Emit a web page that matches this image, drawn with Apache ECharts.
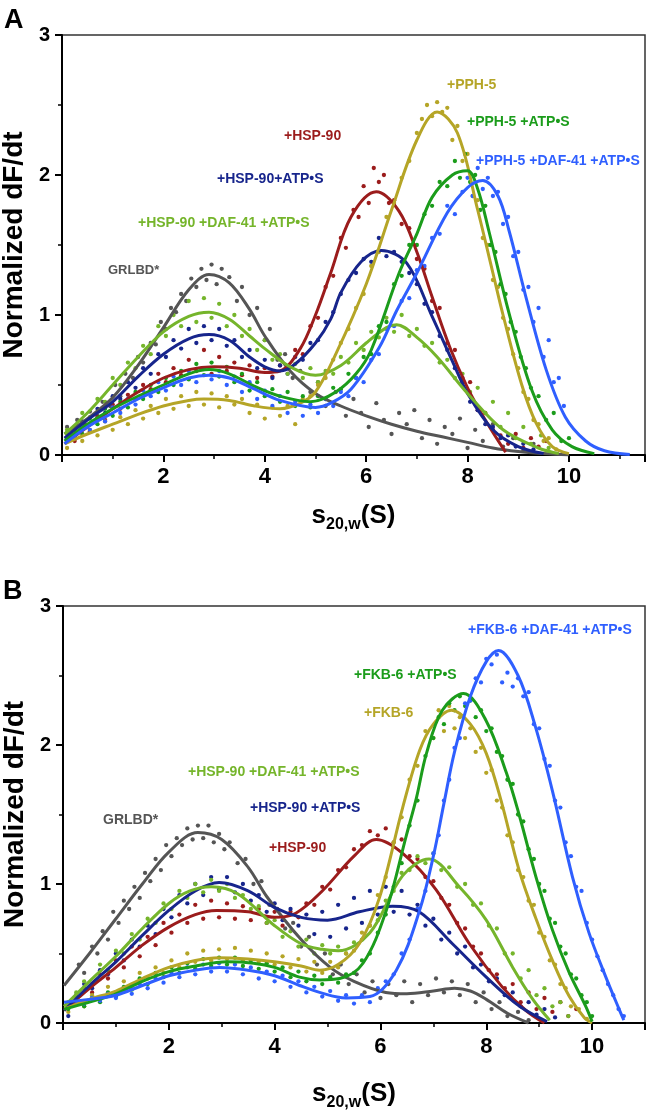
<!DOCTYPE html>
<html><head><meta charset="utf-8">
<script src="https://cdn.jsdelivr.net/npm/echarts@6/dist/echarts.min.js"></script>
<style>html,body{margin:0;padding:0;background:#fff}#c{width:646px;height:1116px}</style>
</head><body><div id="c"></div>
<script>
// ---------------- Panel A: fitted curves (s20,w in S, normalized dF/dt) ----------------
const A_GRLBD_fit = [[0.05,0.15],[0.5,0.26],[1,0.41],[1.5,0.64],[2,0.91],[2.5,1.18],[2.9,1.29],[3.3,1.23],[3.7,1.04],[4,0.85],[4.5,0.6],[5,0.44],[5.5,0.35],[6,0.28],[6.5,0.22],[7,0.17],[7.5,0.13],[8,0.09],[8.5,0.05],[9,0.025],[9.5,0.01],[10,0]];
const A_HSP90_fit = [[0.05,0.08],[0.5,0.2],[1,0.33],[1.5,0.45],[2,0.55],[2.5,0.61],[3,0.63],[3.5,0.62],[4,0.59],[4.3,0.6],[4.7,0.76],[5,1.0],[5.3,1.3],[5.7,1.7],[6.2,1.88],[6.65,1.74],[7,1.45],[7.3,1.13],[7.65,0.77],[8,0.48],[8.35,0.25],[8.75,0.02]];
const A_HSP90_ATP_fit = [[0.05,0.12],[0.5,0.25],[1,0.38],[1.5,0.56],[2,0.72],[2.5,0.83],[2.9,0.86],[3.3,0.82],[3.7,0.7],[4,0.63],[4.3,0.6],[4.6,0.65],[5,0.8],[5.3,0.97],[5.5,1.16],[5.9,1.38],[6.3,1.46],[6.8,1.37],[7.3,0.99],[7.7,0.67],[8,0.44],[8.5,0.18],[9,0.06],[9.5,0.01]];
const A_HSP90_DAF_fit = [[0.05,0.15],[0.5,0.3],[1,0.5],[1.5,0.7],[2,0.88],[2.5,0.99],[2.9,1.02],[3.3,0.97],[3.7,0.85],[4,0.76],[4.5,0.63],[5,0.57],[5.5,0.64],[6,0.8],[6.4,0.91],[6.6,0.93],[7,0.84],[7.4,0.7],[8,0.44],[8.7,0.18],[9.4,0.05],[9.8,0.01]];
const A_PPH5_fit = [[0.05,0.08],[0.5,0.15],[1,0.22],[1.5,0.29],[2,0.35],[2.5,0.39],[2.8,0.4],[3.3,0.39],[3.8,0.35],[4.3,0.33],[4.7,0.37],[5,0.45],[5.4,0.72],[6,1.22],[6.5,1.75],[7,2.25],[7.4,2.45],[7.8,2.3],[8.2,1.75],[8.5,1.3],[8.7,1.0],[9.07,0.5],[9.35,0.23],[9.67,0.06],[10,0.01]];
const A_PPH5_ATP_fit = [[0.05,0.1],[0.5,0.22],[1,0.33],[1.5,0.42],[2,0.5],[2.5,0.58],[2.9,0.61],[3.3,0.58],[3.8,0.49],[4.3,0.42],[4.9,0.38],[5.4,0.45],[5.8,0.58],[6.1,0.75],[6.65,1.3],[7,1.58],[7.3,1.84],[7.7,2.0],[8,2.03],[8.2,1.9],[8.42,1.6],[8.82,1.01],[9.27,0.46],[9.67,0.18],[10.06,0.06],[10.5,0.01]];
const A_PPH5_DAF_fit = [[0.05,0.08],[0.5,0.2],[1,0.3],[1.5,0.4],[2,0.48],[2.5,0.55],[2.9,0.57],[3.3,0.55],[3.8,0.47],[4.3,0.39],[5,0.34],[5.3,0.37],[5.7,0.47],[6.26,0.77],[6.6,1.03],[7,1.3],[7.6,1.73],[8,1.91],[8.3,1.96],[8.6,1.85],[8.82,1.6],[9.15,1.13],[9.55,0.61],[9.93,0.27],[10.33,0.1],[10.7,0.03],[11.2,0.003]];

// ---------------- Panel A: measured points ----------------
const A_GRLBD_pts = [[0.1,0.2],[0.2,0.14],[0.3,0.25],[0.45,0.22],[0.55,0.31],[0.7,0.28],[0.8,0.38],[0.95,0.35],[1.05,0.5],[1.15,0.42],[1.25,0.58],[1.4,0.55],[1.5,0.7],[1.6,0.66],[1.75,0.8],[1.85,0.79],[1.95,0.95],[2.05,0.9],[2.15,1.05],[2.25,1.02],[2.35,1.15],[2.45,1.1],[2.55,1.26],[2.65,1.2],[2.75,1.33],[2.85,1.25],[2.95,1.36],[3.05,1.22],[3.15,1.33],[3.3,1.27],[3.45,1.1],[3.55,1.2],[3.7,1.0],[3.85,1.05],[4.0,0.82],[4.1,0.9],[4.25,0.68],[4.4,0.72],[4.55,0.55],[4.7,0.6],[4.9,0.45],[5.05,0.52],[5.2,0.35],[5.4,0.45],[5.6,0.28],[5.75,0.4],[5.9,0.3],[6.05,0.2],[6.2,0.37],[6.35,0.25],[6.5,0.15],[6.65,0.3],[6.8,0.22],[6.95,0.32],[7.1,0.12],[7.25,0.25],[7.4,0.08],[7.55,0.2],[7.7,0.15],[7.85,0.26],[8.0,0.05],[8.15,0.18],[8.3,0.1],[8.5,0.22],[8.7,0.06],[8.9,0.12],[9.1,0.03],[9.3,0.08]];
const A_HSP90_pts = [[0.1,0.12],[0.25,0.1],[0.4,0.2],[0.55,0.17],[0.7,0.27],[0.85,0.25],[1.0,0.36],[1.15,0.33],[1.3,0.43],[1.45,0.4],[1.6,0.5],[1.75,0.47],[1.9,0.58],[2.05,0.52],[2.2,0.62],[2.35,0.57],[2.5,0.68],[2.65,0.6],[2.8,0.75],[2.95,0.58],[3.1,0.7],[3.25,0.6],[3.4,0.66],[3.55,0.57],[3.7,0.64],[3.85,0.55],[4.0,0.62],[4.15,0.56],[4.3,0.64],[4.45,0.62],[4.6,0.75],[4.75,0.72],[4.9,0.92],[5.05,0.98],[5.2,1.2],[5.35,1.28],[5.5,1.55],[5.6,1.48],[5.75,1.75],[5.85,1.7],[5.95,1.92],[6.05,1.8],[6.15,2.05],[6.25,1.95],[6.35,2.0],[6.45,1.8],[6.55,1.82],[6.7,1.65],[6.85,1.62],[7.0,1.4],[7.15,1.33],[7.3,1.1],[7.45,1.05],[7.6,0.8],[7.75,0.75],[7.9,0.55],[8.05,0.52],[8.2,0.32],[8.35,0.3],[8.5,0.18],[8.65,0.14],[8.8,0.08],[8.95,0.15],[9.1,0.05],[9.25,0.12],[9.4,0.06],[9.55,0.1]];
const A_HSP90_ATP_pts = [[0.1,0.15],[0.25,0.12],[0.4,0.24],[0.55,0.22],[0.7,0.33],[0.85,0.3],[1.0,0.42],[1.15,0.4],[1.3,0.52],[1.45,0.48],[1.6,0.62],[1.75,0.58],[1.9,0.72],[2.05,0.7],[2.2,0.82],[2.35,0.76],[2.5,0.9],[2.65,0.8],[2.8,0.92],[2.95,0.82],[3.1,0.9],[3.25,0.78],[3.4,0.82],[3.55,0.7],[3.7,0.75],[3.85,0.62],[4.0,0.68],[4.15,0.55],[4.3,0.64],[4.45,0.58],[4.6,0.7],[4.75,0.68],[4.9,0.8],[5.05,0.82],[5.2,0.95],[5.35,1.02],[5.5,1.15],[5.65,1.25],[5.8,1.3],[5.95,1.4],[6.1,1.38],[6.25,1.55],[6.4,1.42],[6.55,1.45],[6.7,1.38],[6.85,1.3],[7.0,1.22],[7.15,1.08],[7.3,1.02],[7.45,0.85],[7.6,0.75],[7.75,0.62],[7.9,0.52],[8.05,0.38],[8.2,0.32],[8.35,0.22],[8.5,0.2],[8.65,0.12],[8.8,0.14],[8.95,0.06],[9.1,0.08],[9.3,0.04]];
const A_HSP90_DAF_pts = [[0.1,0.18],[0.25,0.2],[0.4,0.3],[0.55,0.27],[0.7,0.4],[0.85,0.38],[1.0,0.55],[1.15,0.5],[1.3,0.66],[1.45,0.62],[1.6,0.78],[1.75,0.72],[1.9,0.92],[2.05,0.85],[2.2,1.0],[2.35,0.92],[2.5,1.1],[2.65,0.95],[2.8,1.12],[2.95,0.98],[3.1,1.08],[3.25,0.92],[3.4,1.0],[3.55,0.85],[3.7,0.9],[3.85,0.75],[4.0,0.82],[4.15,0.68],[4.3,0.72],[4.45,0.58],[4.6,0.65],[4.75,0.55],[4.9,0.62],[5.05,0.52],[5.2,0.6],[5.35,0.58],[5.5,0.7],[5.65,0.66],[5.8,0.8],[5.95,0.75],[6.1,0.88],[6.25,0.84],[6.4,0.98],[6.55,0.88],[6.7,1.0],[6.85,0.85],[7.0,0.9],[7.15,0.78],[7.3,0.8],[7.45,0.66],[7.6,0.68],[7.75,0.55],[7.9,0.58],[8.05,0.45],[8.2,0.48],[8.35,0.3],[8.5,0.38],[8.65,0.2],[8.8,0.3],[8.95,0.12],[9.1,0.2],[9.25,0.08],[9.45,0.14],[9.6,0.05]];
const A_PPH5_pts = [[0.1,0.05],[0.25,0.12],[0.4,0.1],[0.55,0.18],[0.7,0.14],[0.85,0.24],[1.0,0.18],[1.15,0.27],[1.3,0.22],[1.45,0.32],[1.6,0.26],[1.75,0.35],[1.9,0.3],[2.05,0.4],[2.2,0.33],[2.35,0.42],[2.5,0.35],[2.65,0.45],[2.8,0.36],[2.95,0.44],[3.1,0.34],[3.25,0.42],[3.4,0.36],[3.55,0.4],[3.7,0.3],[3.85,0.36],[4.0,0.26],[4.15,0.34],[4.3,0.28],[4.45,0.35],[4.6,0.22],[4.75,0.4],[4.9,0.42],[5.05,0.5],[5.2,0.55],[5.35,0.68],[5.5,0.8],[5.65,0.9],[5.8,1.05],[5.95,1.15],[6.1,1.35],[6.25,1.45],[6.4,1.7],[6.55,1.8],[6.7,1.98],[6.85,2.1],[7.0,2.3],[7.1,2.4],[7.2,2.5],[7.3,2.42],[7.4,2.52],[7.5,2.45],[7.6,2.48],[7.7,2.25],[7.8,2.35],[7.9,2.1],[8.0,2.15],[8.1,1.85],[8.2,1.82],[8.3,1.55],[8.4,1.5],[8.5,1.25],[8.6,1.2],[8.7,0.98],[8.8,0.9],[8.9,0.72],[9.0,0.62],[9.1,0.45],[9.2,0.4],[9.3,0.25],[9.4,0.22],[9.5,0.1],[9.6,0.12],[9.75,0.04]];
const A_PPH5_ATP_pts = [[0.1,0.12],[0.25,0.18],[0.4,0.15],[0.55,0.26],[0.7,0.22],[0.85,0.33],[1.0,0.28],[1.15,0.38],[1.3,0.34],[1.45,0.45],[1.6,0.4],[1.75,0.5],[1.9,0.45],[2.05,0.55],[2.2,0.5],[2.35,0.6],[2.5,0.54],[2.65,0.65],[2.8,0.57],[2.95,0.66],[3.1,0.56],[3.25,0.63],[3.4,0.52],[3.55,0.58],[3.7,0.46],[3.85,0.52],[4.0,0.42],[4.15,0.47],[4.3,0.38],[4.45,0.45],[4.6,0.35],[4.75,0.42],[4.9,0.34],[5.05,0.42],[5.2,0.4],[5.35,0.48],[5.5,0.47],[5.65,0.58],[5.8,0.55],[5.95,0.7],[6.1,0.72],[6.25,0.92],[6.4,0.95],[6.55,1.22],[6.7,1.28],[6.85,1.5],[7.0,1.5],[7.15,1.72],[7.3,1.78],[7.45,1.95],[7.6,1.92],[7.75,2.1],[7.85,1.98],[7.95,2.15],[8.05,1.95],[8.15,2.0],[8.25,1.75],[8.35,1.78],[8.45,1.5],[8.55,1.45],[8.65,1.22],[8.75,1.15],[8.85,0.95],[8.95,0.88],[9.05,0.7],[9.15,0.62],[9.25,0.48],[9.4,0.42],[9.55,0.25],[9.7,0.3],[9.85,0.1],[10.0,0.12]];
const A_PPH5_DAF_pts = [[0.1,0.1],[0.25,0.14],[0.4,0.2],[0.55,0.18],[0.7,0.26],[0.85,0.24],[1.0,0.34],[1.15,0.3],[1.3,0.4],[1.45,0.36],[1.6,0.46],[1.75,0.42],[1.9,0.52],[2.05,0.46],[2.2,0.56],[2.35,0.5],[2.5,0.6],[2.65,0.52],[2.8,0.62],[2.95,0.54],[3.1,0.6],[3.25,0.5],[3.4,0.56],[3.55,0.45],[3.7,0.52],[3.85,0.4],[4.0,0.46],[4.15,0.35],[4.3,0.42],[4.45,0.3],[4.6,0.38],[4.75,0.28],[4.9,0.36],[5.05,0.3],[5.2,0.4],[5.35,0.35],[5.5,0.45],[5.65,0.42],[5.8,0.55],[5.95,0.52],[6.1,0.68],[6.25,0.72],[6.4,0.9],[6.55,0.92],[6.7,1.1],[6.85,1.12],[7.0,1.32],[7.15,1.35],[7.3,1.55],[7.45,1.58],[7.6,1.78],[7.75,1.72],[7.9,1.88],[8.0,1.98],[8.1,1.85],[8.2,2.05],[8.3,1.9],[8.4,1.98],[8.5,1.85],[8.6,1.88],[8.7,1.65],[8.8,1.7],[8.9,1.42],[9.0,1.45],[9.1,1.18],[9.2,1.2],[9.3,0.95],[9.4,1.05],[9.5,0.7],[9.6,0.82],[9.7,0.52],[9.8,0.55],[9.9,0.35]];

// ---------------- Panel B: fitted curves ----------------
const B_GRLBD_fit = [[0.02,0.27],[0.5,0.5],[1,0.75],[1.5,1.0],[2,1.23],[2.55,1.37],[3,1.32],[3.5,1.12],[3.85,0.91],[4.5,0.6],[5.05,0.4],[5.5,0.3],[6.1,0.22],[6.5,0.21],[7,0.23],[7.4,0.25],[7.7,0.23],[8,0.17],[8.4,0.07],[8.8,0.0]];
const B_HSP90_fit = [[0.02,0.09],[0.5,0.25],[1,0.4],[1.5,0.56],[2,0.69],[2.5,0.78],[2.9,0.81],[3.5,0.8],[4,0.76],[4.4,0.79],[4.9,0.95],[5.5,1.2],[5.92,1.32],[6.42,1.22],[7.05,0.96],[7.68,0.57],[8.3,0.26],[8.75,0.09],[9.1,0.0]];
const B_HSP90_ATP_fit = [[0.02,0.09],[0.5,0.27],[1,0.44],[1.5,0.63],[2,0.81],[2.5,0.95],[2.95,1.01],[3.5,0.95],[4,0.83],[4.5,0.76],[5.0,0.74],[5.6,0.8],[6.23,0.84],[6.73,0.8],[7.36,0.57],[8,0.33],[8.63,0.12],[9.15,0.01]];
const B_HSP90_DAF_fit = [[0.02,0.12],[0.5,0.3],[1,0.48],[1.5,0.68],[2,0.86],[2.4,0.95],[2.8,0.98],[3.3,0.93],[4,0.7],[4.5,0.57],[4.9,0.53],[5.2,0.52],[5.8,0.65],[6.42,1.06],[6.92,1.18],[7.49,0.98],[8,0.74],[8.5,0.4],[8.88,0.17],[9.2,0.02]];
const B_FKB6_fit = [[0.02,0.1],[0.5,0.17],[1,0.23],[1.5,0.32],[2,0.4],[2.5,0.45],[2.95,0.47],[3.5,0.46],[4,0.44],[4.5,0.41],[4.85,0.38],[5.2,0.42],[5.6,0.57],[5.98,0.9],[6.42,1.55],[6.74,1.96],[7,2.15],[7.34,2.25],[7.7,2.15],[8,1.94],[8.28,1.6],[8.62,1.1],[8.94,0.75],[9.25,0.45],[9.57,0.19],[9.85,0.04],[10,0.0]];
const B_FKB6_ATP_fit = [[0.02,0.1],[0.5,0.15],[1,0.21],[1.5,0.3],[2,0.37],[2.5,0.41],[3.1,0.44],[3.6,0.43],[4,0.4],[4.47,0.33],[4.85,0.31],[5.23,0.32],[5.67,0.43],[6.11,0.81],[6.49,1.35],[6.68,1.62],[6.87,1.94],[7.17,2.25],[7.57,2.37],[7.99,2.18],[8.38,1.8],[8.62,1.5],[8.94,1.05],[9.25,0.67],[9.57,0.36],[9.88,0.12],[10.0,0.01]];
const B_FKB6_DAF_fit = [[0.02,0.15],[0.5,0.17],[1,0.2],[1.5,0.27],[2,0.34],[2.5,0.38],[2.96,0.4],[3.5,0.38],[4,0.34],[4.47,0.27],[4.85,0.22],[5.35,0.18],[5.8,0.19],[6.3,0.38],[6.74,0.81],[7.0,1.2],[7.2,1.58],[7.4,1.95],[7.7,2.35],[8.0,2.6],[8.23,2.68],[8.6,2.5],[8.93,2.13],[9.25,1.67],[9.63,1.05],[9.94,0.65],[10.26,0.33],[10.51,0.1],[10.6,0.02]];

// ---------------- Panel B: measured points ----------------
const B_GRLBD_pts = [[0.3,0.42],[0.4,0.36],[0.55,0.55],[0.65,0.5],[0.75,0.66],[0.85,0.6],[0.95,0.8],[1.05,0.72],[1.15,0.88],[1.25,0.82],[1.35,0.98],[1.45,0.9],[1.55,1.08],[1.65,1.02],[1.75,1.18],[1.85,1.1],[1.95,1.28],[2.05,1.2],[2.15,1.33],[2.25,1.28],[2.35,1.4],[2.45,1.32],[2.55,1.42],[2.65,1.33],[2.75,1.42],[2.85,1.3],[2.95,1.36],[3.05,1.25],[3.15,1.3],[3.3,1.15],[3.45,1.18],[3.6,1.0],[3.75,1.02],[3.9,0.85],[4.05,0.82],[4.2,0.68],[4.35,0.72],[4.5,0.55],[4.65,0.62],[4.8,0.42],[4.95,0.5],[5.1,0.35],[5.25,0.42],[5.4,0.28],[5.55,0.35],[5.7,0.22],[5.85,0.3],[6.0,0.18],[6.15,0.28],[6.3,0.2],[6.45,0.3],[6.6,0.15],[6.75,0.28],[6.9,0.2],[7.05,0.32],[7.2,0.22],[7.35,0.3],[7.5,0.2],[7.65,0.28],[7.8,0.15],[7.95,0.22],[8.1,0.1],[8.25,0.15],[8.4,0.05],[8.6,0.08],[8.8,0.02]];
const B_HSP90_pts = [[0.1,0.12],[0.25,0.18],[0.4,0.25],[0.55,0.22],[0.7,0.35],[0.85,0.32],[1.0,0.45],[1.15,0.4],[1.3,0.55],[1.45,0.48],[1.6,0.62],[1.75,0.56],[1.9,0.72],[2.05,0.65],[2.2,0.78],[2.35,0.72],[2.5,0.85],[2.65,0.75],[2.8,0.88],[2.95,0.76],[3.1,0.86],[3.25,0.75],[3.4,0.84],[3.55,0.74],[3.7,0.82],[3.85,0.72],[4.0,0.8],[4.15,0.7],[4.3,0.8],[4.45,0.76],[4.6,0.86],[4.75,0.85],[4.9,0.98],[5.05,0.96],[5.2,1.1],[5.35,1.12],[5.5,1.25],[5.65,1.28],[5.8,1.38],[5.95,1.35],[6.1,1.4],[6.25,1.3],[6.4,1.32],[6.55,1.2],[6.7,1.18],[6.85,1.05],[7.0,1.02],[7.15,0.9],[7.3,0.85],[7.45,0.72],[7.6,0.68],[7.75,0.55],[7.9,0.5],[8.05,0.38],[8.2,0.35],[8.35,0.25],[8.5,0.28],[8.65,0.15],[8.8,0.22],[8.95,0.1],[9.1,0.18],[9.25,0.08],[9.4,0.15],[9.55,0.05],[9.7,0.1]];
const B_HSP90_ATP_pts = [[0.1,0.05],[0.25,0.2],[0.4,0.28],[0.55,0.25],[0.7,0.38],[0.85,0.35],[1.0,0.5],[1.15,0.45],[1.3,0.6],[1.45,0.55],[1.6,0.7],[1.75,0.64],[1.9,0.82],[2.05,0.76],[2.2,0.92],[2.35,0.86],[2.5,1.0],[2.65,0.92],[2.8,1.05],[2.95,0.96],[3.1,1.05],[3.25,0.94],[3.4,1.0],[3.55,0.88],[3.7,0.92],[3.85,0.8],[4.0,0.86],[4.15,0.74],[4.3,0.82],[4.45,0.7],[4.6,0.78],[4.75,0.64],[4.9,0.8],[5.05,0.62],[5.2,0.85],[5.35,0.68],[5.5,0.9],[5.65,0.72],[5.8,0.95],[5.95,0.78],[6.1,0.98],[6.25,0.8],[6.4,0.95],[6.55,0.78],[6.7,0.85],[6.85,0.7],[7.0,0.75],[7.15,0.6],[7.3,0.65],[7.45,0.5],[7.6,0.55],[7.75,0.4],[7.9,0.42],[8.05,0.3],[8.2,0.32],[8.35,0.2],[8.5,0.22],[8.65,0.12],[8.8,0.15],[8.95,0.06],[9.1,0.1],[9.3,0.04]];
const B_HSP90_DAF_pts = [[0.1,0.15],[0.25,0.22],[0.4,0.3],[0.55,0.28],[0.7,0.42],[0.85,0.38],[1.0,0.52],[1.15,0.5],[1.3,0.64],[1.45,0.6],[1.6,0.75],[1.75,0.72],[1.9,0.86],[2.05,0.82],[2.2,0.95],[2.35,0.9],[2.5,1.0],[2.65,0.94],[2.8,1.03],[2.95,0.95],[3.1,1.0],[3.25,0.9],[3.4,0.92],[3.55,0.82],[3.7,0.84],[3.85,0.72],[4.0,0.74],[4.15,0.62],[4.3,0.66],[4.45,0.55],[4.6,0.6],[4.75,0.5],[4.9,0.56],[5.05,0.5],[5.2,0.55],[5.35,0.5],[5.5,0.58],[5.65,0.6],[5.8,0.7],[5.95,0.74],[6.1,0.88],[6.25,0.95],[6.4,1.08],[6.55,1.1],[6.7,1.2],[6.85,1.15],[7.0,1.22],[7.15,1.1],[7.3,1.12],[7.45,0.98],[7.6,1.0],[7.75,0.85],[7.9,0.86],[8.05,0.7],[8.2,0.68],[8.35,0.5],[8.5,0.5],[8.65,0.32],[8.8,0.38],[8.95,0.2],[9.1,0.25],[9.25,0.12],[9.4,0.15],[9.55,0.05]];
const B_FKB6_pts = [[0.1,0.08],[0.25,0.14],[0.4,0.12],[0.55,0.2],[0.7,0.17],[0.85,0.26],[1.0,0.22],[1.15,0.3],[1.3,0.26],[1.45,0.36],[1.6,0.32],[1.75,0.4],[1.9,0.36],[2.05,0.45],[2.2,0.4],[2.35,0.5],[2.5,0.44],[2.65,0.52],[2.8,0.45],[2.95,0.53],[3.1,0.46],[3.25,0.54],[3.4,0.45],[3.55,0.52],[3.7,0.44],[3.85,0.5],[4.0,0.42],[4.15,0.48],[4.3,0.4],[4.45,0.46],[4.6,0.37],[4.75,0.44],[4.9,0.36],[5.05,0.44],[5.2,0.4],[5.35,0.5],[5.5,0.52],[5.65,0.65],[5.8,0.7],[5.95,0.92],[6.1,1.05],[6.25,1.3],[6.4,1.48],[6.55,1.75],[6.7,1.85],[6.85,2.1],[7.0,2.05],[7.1,2.25],[7.2,2.1],[7.3,2.28],[7.4,2.12],[7.5,2.2],[7.6,2.05],[7.7,2.12],[7.8,1.95],[7.9,1.98],[8.0,1.8],[8.1,1.82],[8.2,1.6],[8.3,1.55],[8.4,1.35],[8.5,1.3],[8.6,1.1],[8.7,1.05],[8.8,0.88],[8.9,0.85],[9.0,0.65],[9.1,0.62],[9.2,0.45],[9.3,0.42],[9.4,0.28],[9.5,0.25],[9.6,0.12],[9.75,0.1],[9.9,0.03]];
const B_FKB6_ATP_pts = [[0.1,0.1],[0.25,0.14],[0.4,0.12],[0.55,0.18],[0.7,0.15],[0.85,0.22],[1.0,0.19],[1.15,0.26],[1.3,0.24],[1.45,0.32],[1.6,0.28],[1.75,0.36],[1.9,0.33],[2.05,0.4],[2.2,0.36],[2.35,0.43],[2.5,0.39],[2.65,0.46],[2.8,0.41],[2.95,0.47],[3.1,0.42],[3.25,0.47],[3.4,0.41],[3.55,0.45],[3.7,0.39],[3.85,0.43],[4.0,0.37],[4.15,0.4],[4.3,0.33],[4.45,0.37],[4.6,0.3],[4.75,0.34],[4.9,0.28],[5.05,0.33],[5.2,0.29],[5.35,0.35],[5.5,0.36],[5.65,0.45],[5.8,0.5],[5.95,0.65],[6.1,0.78],[6.25,0.98],[6.4,1.15],[6.55,1.42],[6.7,1.6],[6.85,1.92],[7.0,2.05],[7.1,2.2],[7.2,2.15],[7.3,2.3],[7.4,2.25],[7.5,2.35],[7.6,2.28],[7.7,2.32],[7.8,2.2],[7.9,2.25],[8.0,2.1],[8.1,2.12],[8.2,1.95],[8.3,1.92],[8.4,1.75],[8.5,1.72],[8.6,1.5],[8.7,1.45],[8.8,1.25],[8.9,1.18],[9.0,1.0],[9.1,0.95],[9.2,0.75],[9.3,0.72],[9.4,0.55],[9.5,0.5],[9.6,0.35],[9.7,0.32],[9.8,0.2],[9.9,0.15],[10.0,0.05]];
const B_FKB6_DAF_pts = [[0.1,0.12],[0.25,0.15],[0.4,0.14],[0.55,0.18],[0.7,0.16],[0.85,0.21],[1.0,0.18],[1.15,0.24],[1.3,0.21],[1.45,0.28],[1.6,0.25],[1.75,0.32],[1.9,0.29],[2.05,0.36],[2.2,0.33],[2.35,0.4],[2.5,0.35],[2.65,0.42],[2.8,0.37],[2.95,0.43],[3.1,0.37],[3.25,0.42],[3.4,0.35],[3.55,0.4],[3.7,0.32],[3.85,0.37],[4.0,0.3],[4.15,0.34],[4.3,0.26],[4.45,0.3],[4.6,0.22],[4.75,0.26],[4.9,0.19],[5.05,0.23],[5.2,0.16],[5.35,0.2],[5.5,0.14],[5.65,0.2],[5.8,0.15],[5.95,0.25],[6.1,0.3],[6.25,0.35],[6.4,0.5],[6.55,0.6],[6.7,0.82],[6.85,0.95],[7.0,1.22],[7.1,1.35],[7.2,1.6],[7.3,1.75],[7.4,1.98],[7.5,2.05],[7.6,2.3],[7.7,2.32],[7.8,2.48],[7.9,2.45],[8.0,2.62],[8.1,2.58],[8.2,2.65],[8.3,2.45],[8.4,2.52],[8.5,2.42],[8.6,2.48],[8.7,2.35],[8.8,2.38],[8.9,2.15],[9.0,2.12],[9.1,1.9],[9.2,1.85],[9.3,1.6],[9.4,1.55],[9.5,1.3],[9.6,1.2],[9.7,0.98],[9.8,0.95],[9.9,0.72],[10.0,0.6],[10.1,0.48],[10.2,0.38],[10.3,0.28],[10.4,0.2],[10.5,0.1],[10.6,0.05]];

// ---------------- labels ----------------
const xTitle = '{s|s}{sub|20,w}{p|(S)}';
const yTitle = 'Normalized dF/dt';
const panelLetters = ['A', 'B'];
const A_names = ['GRLBD*', '+HSP-90', '+HSP-90+ATP•S', '+HSP-90 +DAF-41 +ATP•S', '+PPH-5', '+PPH-5 +ATP•S', '+PPH-5 +DAF-41 +ATP•S'];
const B_names = ['GRLBD*', '+HSP-90', '+HSP-90 +ATP•S', '+HSP-90 +DAF-41 +ATP•S', '+FKB-6', '+FKB-6 +ATP•S', '+FKB-6 +DAF-41 +ATP•S'];

const FONT = "'Liberation Sans', Arial, Helvetica, sans-serif";
const COL = ['#555555', '#9b1c1c', '#17258c', '#75b52b', '#b5a527', '#1b9c1b', '#2f5fff'];

const panels = [
  { fits: [A_GRLBD_fit, A_HSP90_fit, A_HSP90_ATP_fit, A_HSP90_DAF_fit, A_PPH5_fit, A_PPH5_ATP_fit, A_PPH5_DAF_fit],
    pts:  [A_GRLBD_pts, A_HSP90_pts, A_HSP90_ATP_pts, A_HSP90_DAF_pts, A_PPH5_pts, A_PPH5_ATP_pts, A_PPH5_DAF_pts],
    names: A_names, xMax: 11.5,
    grid: {left: 62, top: 35, width: 583, height: 420}, labelMargin: 11, nameGap: 48,
    lab: [[108,270,13],[284,136,14],[217,179,14],[138,223,14],[447,85,14],[467,122,14],[476,161,14]],
    letter: [4, 21] },
  { fits: [B_GRLBD_fit, B_HSP90_fit, B_HSP90_ATP_fit, B_HSP90_DAF_fit, B_FKB6_fit, B_FKB6_ATP_fit, B_FKB6_DAF_fit],
    pts:  [B_GRLBD_pts, B_HSP90_pts, B_HSP90_ATP_pts, B_HSP90_DAF_pts, B_FKB6_pts, B_FKB6_ATP_pts, B_FKB6_DAF_pts],
    names: B_names, xMax: 11,
    grid: {left: 63, top: 606, width: 582, height: 417}, labelMargin: 13, nameGap: 58,
    lab: [[103,820,14],[269,848,14],[250,808,14],[188,772,14],[364,713,14],[354,675,14],[468,630,14]],
    letter: [3, 592] }
];

const richTitle = {
  s: {fontSize: 26, fontWeight: 'bold', fontFamily: FONT, color: '#000', lineHeight: 30, verticalAlign: 'top'},
  sub: {fontSize: 16, fontWeight: 'bold', fontFamily: FONT, color: '#000', lineHeight: 16, padding: [17, 0, 0, 0], verticalAlign: 'bottom'},
  p: {fontSize: 26, fontWeight: 'bold', fontFamily: FONT, color: '#000', lineHeight: 30, verticalAlign: 'top'}
};

const grids = [], xAxes = [], yAxes = [], series = [], graphics = [];
panels.forEach((p, g) => {
  grids.push(Object.assign({show: true, borderColor: '#333', borderWidth: 1.5, backgroundColor: 'transparent', containLabel: false, outerBoundsMode: 'none'}, p.grid));
  xAxes.push({
    gridIndex: g, type: 'value', position: 'bottom', min: 0, max: p.xMax, interval: 2,
    axisLine: {show: true, onZero: false, lineStyle: {color: '#000', width: 2}},
    axisTick: {show: true, inside: false, length: 7, lineStyle: {color: '#000', width: 2}},
    axisLabel: {margin: p.labelMargin, fontSize: 22, fontWeight: 'bold', color: '#000', fontFamily: FONT,
      formatter: v => (v > 0 && v <= 10 && v % 2 === 0) ? String(v) : ''},
    splitLine: {show: false},
    name: xTitle, nameLocation: 'middle', nameGap: p.nameGap,
    nameTextStyle: {fontFamily: FONT, color: '#000', rich: richTitle}
  });
  xAxes.push({
    gridIndex: g, type: 'value', position: 'bottom', min: 0, max: p.xMax, interval: 1,
    axisLine: {show: false}, axisLabel: {show: false}, splitLine: {show: false},
    axisTick: {show: true, inside: false, length: 4, lineStyle: {color: '#000', width: 1.5}}
  });
  yAxes.push({
    gridIndex: g, type: 'value', min: 0, max: 3, interval: 1,
    axisLine: {show: true, onZero: false, lineStyle: {color: '#000', width: 2}},
    axisTick: {show: true, inside: false, length: 7, lineStyle: {color: '#000', width: 2}},
    minorTick: {show: true, splitNumber: 2, length: 4, lineStyle: {color: '#000', width: 1.5}},
    axisLabel: {margin: 12, fontSize: 20, fontWeight: 'bold', color: '#000', fontFamily: FONT},
    splitLine: {show: false}, minorSplitLine: {show: false},
    name: yTitle, nameLocation: 'middle', nameGap: 30, nameRotate: 90,
    nameTextStyle: {fontSize: 28, fontWeight: 'bold', color: '#000', fontFamily: FONT}
  });
  p.fits.forEach((fit, i) => {
    series.push({type: 'scatter', name: p.names[i] + ' data', xAxisIndex: 2 * g, yAxisIndex: g, data: p.pts[i],
      symbol: 'circle', symbolSize: 4.3, itemStyle: {color: COL[i], opacity: 1}, silent: true, z: 2});
  });
  p.fits.forEach((fit, i) => {
    series.push({type: 'line', name: p.names[i], xAxisIndex: 2 * g, yAxisIndex: g, data: fit,
      smooth: 0.35, showSymbol: false, symbol: 'none', lineStyle: {color: COL[i], width: 3}, silent: true, z: 3});
  });
  p.lab.forEach((l, i) => {
    graphics.push({type: 'text', x: l[0], y: l[1], silent: true,
      style: {text: p.names[i], fill: COL[i], fontSize: l[2], fontWeight: 'bold', fontFamily: FONT, align: 'left', verticalAlign: 'middle'}});
  });
  graphics.push({type: 'text', x: p.letter[0], y: p.letter[1], silent: true,
    style: {text: panelLetters[g], fill: '#000', fontSize: 27, fontWeight: 'bold', fontFamily: FONT, align: 'left', verticalAlign: 'middle'}});
});

const chart = echarts.init(document.getElementById('c'), null, {renderer: 'canvas'});
chart.setOption({
  animation: false,
  backgroundColor: '#fff',
  grid: grids, xAxis: xAxes, yAxis: yAxes, series: series, graphic: graphics
});
</script></body></html>
